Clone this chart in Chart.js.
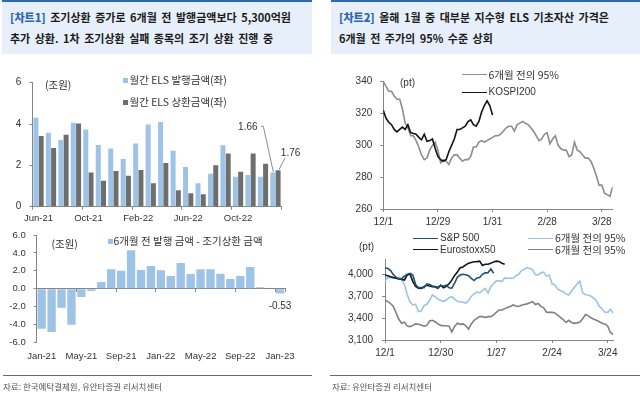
<!DOCTYPE html>
<html><head><meta charset="utf-8">
<script src="https://cdn.jsdelivr.net/npm/chart.js@4.4.1/dist/chart.umd.min.js"></script>
<style>
html,body{margin:0;padding:0;}
body{width:640px;height:393px;position:relative;background:#fff;overflow:hidden;font-family:'Liberation Sans',Arial,sans-serif;}
canvas{position:absolute;left:0;top:0;}
.hdr{position:absolute;top:0;height:54px;background:#e7f0fa;border-top:2px solid #2d6ab0;box-sizing:border-box;
  font-family:'Noto Sans CJK KR','Noto Sans',sans-serif;font-weight:bold;font-size:11px;color:#1b1b1b;line-height:21px;padding:5px 0 0 8px;white-space:nowrap;word-spacing:2px;}
.hdr b{color:#2e66b0;}
.t{position:absolute;white-space:nowrap;line-height:14px;height:14px;color:#333;font-size:10px;}
.kr{font-family:'Noto Sans CJK KR','Noto Sans',sans-serif;font-size:10.5px;}
.sq{position:absolute;width:5px;height:5px;}
.ln{position:absolute;height:0;border-top-style:solid;}
.rule{position:absolute;height:0;border-top:1px solid #6b6b6b;}
.src{position:absolute;font-family:'Noto Sans CJK KR',sans-serif;font-size:8.5px;color:#555;line-height:12px;white-space:nowrap;}
</style>
</head><body>
<div class="hdr" style="left:2px;width:310px;"><b>[차트1]</b> 조기상환 증가로 6개월 전 발행금액보다 5,300억원<br>추가 상환. 1차 조기상환 실패 종목의 조기 상환 진행 중</div>
<div class="hdr" style="left:331px;width:309px;"><b>[차트2]</b> 올해 1월 중 대부분 지수형 ELS 기초자산 가격은<br>6개월 전 주가의 95% 수준 상회</div>

<canvas id="c1" width="640" height="393"></canvas>
<canvas id="c2" width="640" height="393"></canvas>
<canvas id="c3" width="640" height="393"></canvas>
<canvas id="c4" width="640" height="393"></canvas>

<div class="rule" style="left:3px;width:309px;top:375px;"></div>
<div class="rule" style="left:330px;width:310px;top:375px;"></div>
<div class="src" style="left:3px;top:380px;">자료: 한국예탁결제원, 유안타증권 리서치센터</div>
<div class="src" style="left:332px;top:380px;">자료: 유안타증권 리서치센터</div>

<script>
// ---------- DATA ----------
const months1 = ['Jun-21','Jul-21','Aug-21','Sep-21','Oct-21','Nov-21','Dec-21','Jan-22','Feb-22','Mar-22','Apr-22','May-22','Jun-22','Jul-22','Aug-22','Sep-22','Oct-22','Nov-22','Dec-22','Jan-23'];
const issueAmt = [4.31,3.58,3.23,4.06,3.74,2.98,2.82,2.31,3.06,3.98,4.10,2.71,1.92,1.13,1.60,2.97,1.45,1.53,1.45,1.66];
const redeemAmt = [3.42,2.84,3.48,4.02,1.66,1.26,1.73,1.50,1.77,1.13,2.11,0.79,0.65,0.60,2.00,2.58,1.69,2.58,2.08,1.76];
const yTicks1 = [0,2,4,6];

const months2 = ['Jan-21','Feb-21','Mar-21','Apr-21','May-21','Jun-21','Jul-21','Aug-21','Sep-21','Oct-21','Nov-21','Dec-21','Jan-22','Feb-22','Mar-22','Apr-22','May-22','Jun-22','Jul-22','Aug-22','Sep-22','Oct-22','Nov-22','Dec-22','Jan-23'];
const gapAmt = [-4.48,-4.85,-2.13,-4.03,-0.93,-0.26,0.75,2.16,2.01,4.29,2.09,2.54,2.05,1.42,2.87,1.64,2.16,2.16,1.68,1.08,1.42,2.43,0.15,0.0,-0.53];
const yTicks2 = [-6,-4,-2,0,2,4,6];

const xLabels3 = ['12/1','12/29','1/31','2/28','3/28'];
const yTicks3 = [260,280,300,320,340];
const kospi95 = [340,337,334,334,331,329,329,323,314,311,306,306,303,299,294,291,292,297,300,302,
  297,289,291,290,288,292,294,294,292,290,291,291,293,299,299,302,303,302,303,304,
  305,306,306,307,309,311,312,312,309,313,314,315,314,313,311,309,306,303,304,307,
  308,301,304,306,300,298,297,297,293,294,302,297,296,294,292,292,290,286,281,275,
  275,270,269,268,274];
const kospi200 = [322,317,314.5,313,310,308.5,310,311.5,310,313,308,307.5,307,305,303.5,307,302.5,303,304,298,
  293,291,290,291,296,300,304,310,310,311,312,315,316,313,312,315,321,325,328,325,319];

const xLabels4 = ['12/1','12/30','1/27','2/24','3/24'];
const yTicks4 = [3100,3400,3700,4000];
const sp500 = [4082,4082,4050,3995,3960,3935,3940,3975,4000,4014,3991,3860,3817,3817,3817,3870,3860,3840,3825,3805,
  3850,3835,3850,3815,3810,3880,3960,3990,4000,3995,3980,3945,3915,3950,3955,4000,4020,4023,4073,4014];
const euro50 = [3991,3980,3968,3955,3945,3936,3930,3922,3991,4000,3900,3835,3810,3808,3831,3850,3840,3831,3831,3820,
  3850,3815,3835,3870,3920,3985,4030,4090,4100,4130,4150,4163,4172,4174,4180,4120,4137,4137,4150,4170,
  4180,4175,4150,4137];
const sp95 = [3900,3960,3950,3945,3945,3960,3930,3860,3720,3620,3580,3590,3490,3497,3570,3589,3640,3717,3694,3660,
  3640,3630,3648,3680,3694,3660,3630,3625,3616,3605,3640,3700,3730,3760,3745,3780,3808,3745,3830,3870,
  3910,3910,3900,3950,3945,3945,3945,3980,4000,4050,4070,4091,4080,4065,3995,3991,4020,4030,3975,3990,
  3870,3854,3800,3775,3765,3730,3717,3770,3820,3870,3905,3745,3720,3717,3700,3670,3630,3560,3525,3480,
  3479,3520,3465];
const euro95 = [3648,3625,3600,3560,3470,3380,3330,3345,3290,3283,3300,3320,3315,3306,3290,3300,3360,3370,3351,3320,
  3300,3296,3296,3290,3210,3285,3330,3315,3320,3295,3250,3320,3370,3397,3420,3420,3408,3420,3420,3445,
  3480,3511,3511,3530,3545,3560,3580,3565,3560,3575,3585,3595,3610,3625,3585,3600,3560,3540,3480,3479,
  3479,3470,3440,3410,3380,3340,3370,3340,3328,3335,3345,3390,3450,3430,3405,3385,3370,3350,3330,3320,
  3290,3200,3178];

// ---------- STYLE ----------
const AX = '#868686';
const BLUE = '#9dc3e6';
const GRAY = '#6e6e6e';
Chart.defaults.font.family = "'Liberation Sans', Arial, sans-serif";
Chart.defaults.color = '#333';
Chart.defaults.animation = false;

function pad(area, yW, xH){
  return {left: area.l - yW, top: area.t, right: 640 - area.r, bottom: 393 - area.b - xH};
}
function fixW(w){ return s => { s.width = w; }; }
function fixH(h){ return s => { s.height = h; }; }
function setTicks(vals){ return s => { s.ticks = vals.map(v => ({value: v})); }; }
const xy = arr => arr.map((v, i) => ({x: i, y: v}));

// ---------- CHART 1 ----------
const A1 = {l: 32.3, r: 281.7, t: 82.7, b: 206.7};
const annot1 = {
  id: 'annot1',
  afterDatasetsDraw(chart){
    const ctx = chart.ctx, n = issueAmt.length - 1;
    const b = chart.getDatasetMeta(0).data[n];
    const g = chart.getDatasetMeta(1).data[n];
    ctx.save();
    ctx.strokeStyle = '#8c8c8c'; ctx.lineWidth = 1;
    ctx.beginPath();
    ctx.moveTo(b.x - 12, b.y - 46); ctx.lineTo(b.x - 9.5, b.y - 46); ctx.lineTo(b.x + 0.5, b.y - 0.5);
    ctx.moveTo(g.x + 1, g.y - 1); ctx.lineTo(g.x + 7, g.y - 12.5);
    ctx.stroke();
    ctx.fillStyle = '#333'; ctx.font = "10px 'Liberation Sans', Arial";
    ctx.textAlign = 'center'; ctx.textBaseline = 'middle';
    ctx.fillText(issueAmt[n].toFixed(2), b.x - 25, b.y - 45.5);
    ctx.fillText(redeemAmt[n].toFixed(2), g.x + 12.5, g.y - 17);
    ctx.restore();
  }
};
new Chart(document.getElementById('c1'), {
  type: 'bar',
  data: {labels: months1, datasets: [
    {label: '월간 ELS 발행금액(좌)', data: issueAmt, backgroundColor: BLUE, categoryPercentage: 0.84, barPercentage: 0.955},
    {label: '월간 ELS 상환금액(좌)', data: redeemAmt, backgroundColor: GRAY, categoryPercentage: 0.84, barPercentage: 0.955}
  ]},
  options: {
    responsive: false, layout: {padding: pad(A1, 32.3, 22)},
    plugins: {legend: {display: false}, tooltip: {enabled: false}},
    scales: {
      x: {offset: true, afterFit: fixH(22),
        grid: {offset: true, drawOnChartArea: false, tickLength: 3, color: c => (c.index === undefined || c.index % 4 === 0) ? AX : 'rgba(0,0,0,0)'},
        border: {color: AX},
        ticks: {autoSkip: false, maxRotation: 0, padding: 3, font: {size: 9.5}, callback: (v, i) => i % 4 === 0 ? months1[i] : ''}},
      y: {min: 0, max: 6, afterFit: fixW(32.3), afterBuildTicks: setTicks(yTicks1),
        grid: {drawOnChartArea: false, tickLength: 3, color: AX}, border: {color: AX},
        ticks: {padding: 8, font: {size: 10}}}
    }
  },
  plugins: [annot1]
});

// ---------- CHART 2 ----------
const A2 = {l: 36.7, r: 285, t: 235, b: 342.3};
const annot2 = {
  id: 'annot2',
  afterDatasetsDraw(chart){
    const ctx = chart.ctx, n = gapAmt.length - 1;
    const b = chart.getDatasetMeta(0).data[n];
    ctx.save();
    ctx.fillStyle = '#333'; ctx.font = "10px 'Liberation Sans', Arial";
    ctx.textAlign = 'center'; ctx.textBaseline = 'middle';
    ctx.fillText(gapAmt[n].toFixed(2), b.x, b.y + 13);
    ctx.restore();
  }
};
new Chart(document.getElementById('c2'), {
  type: 'bar',
  data: {labels: months2, datasets: [
    {label: '6개월 전 발행 금액 - 조기상환 금액', data: gapAmt, backgroundColor: BLUE, categoryPercentage: 1, barPercentage: 0.84, xAxisID: 'x'}
  ]},
  options: {
    responsive: false, layout: {padding: pad(A2, 36.7, 26)},
    plugins: {legend: {display: false}, tooltip: {enabled: false}},
    scales: {
      x: {position: 'bottom', offset: true, afterFit: fixH(26),
        grid: {display: false, drawTicks: false}, border: {display: false},
        ticks: {autoSkip: false, maxRotation: 0, padding: 8, font: {size: 9.5}, callback: (v, i) => i % 4 === 0 ? months2[i] : ''}},
      xz: {type: 'category', position: {y: 0}, offset: true,
        grid: {offset: true, drawOnChartArea: false, tickLength: 3, color: c => (c.index === undefined || c.index % 4 === 0) ? AX : 'rgba(0,0,0,0)'},
        border: {color: AX}, ticks: {display: false, autoSkip: false}},
      y: {min: -6, max: 6, afterFit: fixW(36.7), afterBuildTicks: setTicks(yTicks2),
        grid: {drawOnChartArea: false, tickLength: 3, color: AX}, border: {color: AX},
        ticks: {padding: 8, font: {size: 9.5}, callback: v => v.toFixed(1)}}
    }
  },
  plugins: [annot2]
});

// ---------- CHART 3 ----------
const A3 = {l: 383.3, r: 612.7, t: 81.7, b: 209};
new Chart(document.getElementById('c3'), {
  type: 'line',
  data: {datasets: [
    {label: 'KOSPI200', data: xy(kospi200), borderColor: '#141414', borderWidth: 1.6},
    {label: '6개월 전의 95%', data: xy(kospi95), borderColor: '#8d8d8d', borderWidth: 1.6}
  ]},
  options: {
    responsive: false, layout: {padding: pad(A3, 40, 22)},
    elements: {point: {radius: 0}, line: {tension: 0}},
    plugins: {legend: {display: false}, tooltip: {enabled: false}},
    scales: {
      x: {type: 'linear', min: 0, max: 84, afterFit: fixH(22), afterBuildTicks: setTicks([0,20,40,60,80]),
        grid: {drawOnChartArea: false, tickLength: 3, color: AX}, border: {color: AX},
        ticks: {maxRotation: 0, padding: 4, font: {size: 10}, callback: v => xLabels3[v / 20]}},
      y: {min: 260, max: 340, afterFit: fixW(40), afterBuildTicks: setTicks(yTicks3),
        grid: {drawOnChartArea: false, tickLength: 3, color: AX}, border: {color: AX},
        ticks: {padding: 8, font: {size: 10}}}
    }
  }
});

// ---------- CHART 4 ----------
const A4 = {l: 385, r: 613.3, t: 259.7, b: 340};
new Chart(document.getElementById('c4'), {
  type: 'line',
  data: {datasets: [
    {label: 'S&P 500', data: xy(sp500), borderColor: '#1f4e79', borderWidth: 1.6},
    {label: 'Eurostoxx50', data: xy(euro50), borderColor: '#141414', borderWidth: 1.6},
    {label: '6개월 전의 95%', data: xy(sp95), borderColor: '#9dc3e6', borderWidth: 1.6},
    {label: '6개월 전의 95%', data: xy(euro95), borderColor: '#808080', borderWidth: 1.6}
  ]},
  options: {
    responsive: false, layout: {padding: pad(A4, 45, 22)},
    elements: {point: {radius: 0}, line: {tension: 0}},
    plugins: {legend: {display: false}, tooltip: {enabled: false}},
    scales: {
      x: {type: 'linear', min: 0, max: 82, afterFit: fixH(22), afterBuildTicks: setTicks([0,20,40,60,80]),
        grid: {drawOnChartArea: false, tickLength: 3, color: AX}, border: {color: AX},
        ticks: {maxRotation: 0, padding: 4, font: {size: 10}, callback: v => xLabels4[v / 20]}},
      y: {min: 3100, max: 4200, afterFit: fixW(45), afterBuildTicks: setTicks(yTicks4),
        grid: {drawOnChartArea: false, tickLength: 3, color: AX}, border: {color: AX},
        ticks: {padding: 9, font: {size: 10}, callback: v => v.toLocaleString('en-US')}}
    }
  }
});

// ---------- TEXT OVERLAYS (legends, units) ----------
function txt(s, x, cy, cls, extra){
  const d = document.createElement('div');
  d.className = 't ' + (cls || '');
  d.textContent = s;
  d.style.left = x + 'px'; d.style.top = (cy - 7) + 'px';
  if (extra) Object.assign(d.style, extra);
  document.body.appendChild(d);
}
function sq(x, y, color){
  const d = document.createElement('div'); d.className = 'sq';
  d.style.left = x + 'px'; d.style.top = y + 'px'; d.style.background = color;
  document.body.appendChild(d);
}
function ln(x, y, w, color){
  const d = document.createElement('div'); d.className = 'ln';
  d.style.left = x + 'px'; d.style.top = (y - 0.8) + 'px'; d.style.width = w + 'px';
  d.style.borderTopColor = color; d.style.borderTopWidth = '1.6px';
  document.body.appendChild(d);
}
// chart 1
txt('(조원)', 45, 85, 'kr');
sq(122.5, 77.5, BLUE); txt('월간 ELS 발행금액(좌)', 129.5, 80, 'kr');
sq(122.5, 99.5, GRAY); txt('월간 ELS 상환금액(좌)', 129.5, 102, 'kr');
// chart 2
txt('(조원)', 51.5, 243.5, 'kr');
sq(107.5, 238.5, BLUE); txt('6개월 전 발행 금액 - 조기상환 금액', 113.5, 241, 'kr');
// chart 3
txt('(pt)', 400, 82.7);
ln(461.7, 75, 25, '#8d8d8d'); txt('6개월 전의 95%', 488.5, 75, 'kr');
ln(461.7, 92.3, 25, '#141414'); txt('KOSPI200', 488.5, 92.3);
// chart 4
txt('(pt)', 359, 246.7);
ln(413.3, 238.3, 25, '#1f4e79'); txt('S&P 500', 440, 238.3);
ln(413.3, 250, 25, '#141414'); txt('Eurostoxx50', 440, 250);
ln(528.3, 238.3, 25, '#9dc3e6'); txt('6개월 전의 95%', 555, 238.3, 'kr');
ln(528.3, 250, 25, '#808080'); txt('6개월 전의 95%', 555, 250, 'kr');
</script>
</body></html>
